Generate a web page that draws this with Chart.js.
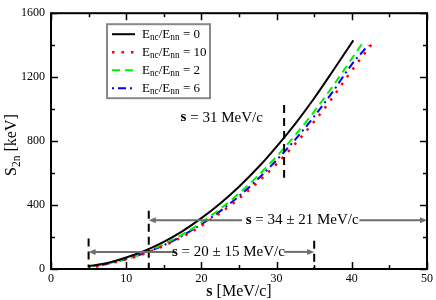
<!DOCTYPE html>
<html>
<head>
<meta charset="utf-8">
<script src="https://cdn.jsdelivr.net/npm/chart.js@4.4.0/dist/chart.umd.min.js"></script>
<style>
  html, body { margin: 0; padding: 0; background: #fff; }
  #wrap { width: 436px; height: 300px; }
</style>
</head>
<body>
<div id="wrap"><canvas id="myChart" width="436" height="300"></canvas></div>
<script>
// S2n vs s
const sBlack = [5, 7.5, 10, 12.5, 15, 17.5, 20, 22.5, 25, 27.5, 30, 32.5, 35, 37.5, 40.2];
const s2nBlack = [18, 38, 72, 115, 170, 237, 318, 410, 515, 633, 766, 910, 1068, 1240, 1430];

const sRed = [6, 7.5, 10, 12.5, 15, 17.5, 20, 22.5, 25, 27.5, 30, 32.5, 35, 37.5, 40, 42.8];
const s2nRed = [14, 32, 60, 97, 145, 202, 270, 350, 441, 543, 657, 784, 923, 1076, 1242, 1416];

const sGreen = [5.6, 7.5, 10, 12.5, 15, 17.5, 20, 22.5, 25, 27.5, 30, 32.5, 35, 37.5, 40, 41.7];
const s2nGreen = [17, 34, 64, 104, 155, 217, 291, 376, 473, 582, 704, 838, 985, 1145, 1316, 1432];

const sBlue = [6, 7.5, 10, 12.5, 15, 17.5, 20, 22.5, 25, 27.5, 30, 32.5, 35, 37.5, 40, 42.2];
const s2nBlue = [16, 33, 62, 101, 149, 209, 280, 362, 456, 562, 681, 811, 954, 1111, 1280, 1400];

const ratios = ["0", "10", "2", "6"];

const xTicks = [0, 10, 20, 30, 40, 50];
const yTicks = [0, 400, 800, 1200, 1600];

// annotations (data coordinates)
const vLines = [
    { s: 5, from: 10, to: 190 },
    { s: 13, from: 0, to: 365 },
    { s: 31, from: 570, to: 1026 },
    { s: 35, from: 0, to: 177 }
];
const ranges = [
    { text: ["20", "15"], y: 107, from: 5, to: 35, gapL: 16.4, gapR: 31.0, center: 23.6 },
    { text: ["34", "21"], y: 305, from: 13, to: 50, gapL: 25.4, gapR: 41.0, center: 33.4 }
];
const note = { text: "31", s: 22.7, y: 947 };

function pts(xs, ys) {
    return xs.map((x, i) => ({ x: x, y: ys[i] }));
}

const serif = "'Liberation Serif', 'DejaVu Serif', serif";

// draw a run of text parts (with optional subscript / bold) starting at x
function partsWidth(ctx, parts, size) {
    let w = 0;
    parts.forEach(p => {
        const fs = p.sub ? size * 0.72 : size;
        ctx.font = (p.bold ? "bold " : "") + fs + "px " + serif;
        w += ctx.measureText(p.t).width;
    });
    return w;
}
function drawParts(ctx, parts, x, y, size) {
    parts.forEach(p => {
        const fs = p.sub ? size * 0.72 : size;
        ctx.font = (p.bold ? "bold " : "") + fs + "px " + serif;
        ctx.fillText(p.t, x, p.sub ? y + size * 0.28 : y);
        x += ctx.measureText(p.t).width;
    });
    return x;
}
function ratioParts(r) {
    return [
        { t: "E" }, { t: "nc", sub: true }, { t: "/E" }, { t: "nn", sub: true }, { t: " = " + r }
    ];
}

const framePlugin = {
    id: "frame",
    afterDatasetsDraw(chart) {
        const ctx = chart.ctx;
        const xs = chart.scales.x, ys = chart.scales.y;
        ctx.save();

        // vertical dashed markers
        ctx.strokeStyle = "#000";
        ctx.lineWidth = 2;
        ctx.setLineDash([8, 5]);
        vLines.forEach(v => {
            const px = xs.getPixelForValue(v.s);
            ctx.beginPath();
            ctx.moveTo(px, ys.getPixelForValue(v.to));
            ctx.lineTo(px, ys.getPixelForValue(v.from));
            ctx.stroke();
        });
        ctx.setLineDash([]);

        // range arrows
        ctx.strokeStyle = "#6e6e6e";
        ctx.fillStyle = "#6e6e6e";
        ctx.lineWidth = 2;
        function arrow(x1, x2, py) {
            const dir = x2 > x1 ? 1 : -1;
            ctx.beginPath();
            ctx.moveTo(x1, py);
            ctx.lineTo(x2 - dir * 5, py);
            ctx.stroke();
            ctx.beginPath();
            ctx.moveTo(x2, py);
            ctx.lineTo(x2 - dir * 7, py - 3);
            ctx.lineTo(x2 - dir * 7, py + 3);
            ctx.closePath();
            ctx.fill();
        }
        ranges.forEach(r => {
            const py = ys.getPixelForValue(r.y);
            arrow(xs.getPixelForValue(r.gapL), xs.getPixelForValue(r.from), py);
            arrow(xs.getPixelForValue(r.gapR), xs.getPixelForValue(r.to), py);
        });

        // labels
        ctx.fillStyle = "#000";
        ctx.textBaseline = "middle";
        ctx.textAlign = "left";
        ranges.forEach(r => {
            const parts = [{ t: "s", bold: true }, { t: " = " + r.text[0] + " \u00b1 " + r.text[1] + " MeV/c" }];
            const w = partsWidth(ctx, parts, 15);
            drawParts(ctx, parts, xs.getPixelForValue(r.center) - w / 2, ys.getPixelForValue(r.y), 15);
        });
        const nParts = [{ t: "s", bold: true }, { t: " = " + note.text + " MeV/c" }];
        const nw = partsWidth(ctx, nParts, 15);
        drawParts(ctx, nParts, xs.getPixelForValue(note.s) - nw / 2, ys.getPixelForValue(note.y), 15);
        ctx.restore();
    },
    afterDraw(chart) {
        const ctx = chart.ctx;
        const a = chart.chartArea;
        const xs = chart.scales.x, ys = chart.scales.y;
        ctx.save();
        ctx.strokeStyle = "#000";

        // ticks, inward on all sides
        ctx.lineWidth = 1.5;
        for (let v = 0; v <= 50; v += 5) {
            const px = Math.round(xs.getPixelForValue(v)) + 0.5;
            const len = v % 10 === 0 ? 7 : 4;
            ctx.beginPath();
            ctx.moveTo(px, a.bottom); ctx.lineTo(px, a.bottom - len);
            ctx.moveTo(px, a.top); ctx.lineTo(px, a.top + len);
            ctx.stroke();
        }
        for (let v = 0; v <= 1600; v += 200) {
            const py = Math.round(ys.getPixelForValue(v)) + 0.5;
            const len = v % 400 === 0 ? 7 : 4;
            ctx.beginPath();
            ctx.moveTo(a.left, py); ctx.lineTo(a.left + len, py);
            ctx.moveTo(a.right, py); ctx.lineTo(a.right - len, py);
            ctx.stroke();
        }

        // frame
        ctx.lineWidth = 2;
        ctx.strokeRect(a.left, a.top, a.right - a.left, a.bottom - a.top);

        // legend
        const lx = a.left + 56, ly = a.top + 11, lw = 103, lh = 74;
        ctx.fillStyle = "#fff";
        ctx.fillRect(lx, ly, lw, lh);
        ctx.strokeStyle = "#888";
        ctx.lineWidth = 2;
        ctx.strokeRect(lx, ly, lw, lh);
        chart.data.datasets.forEach((ds, i) => {
            const ry = ly + 10 + i * 18;
            ctx.strokeStyle = ds.borderColor;
            ctx.lineWidth = ds.borderWidth;
            ctx.setLineDash(ds.borderDash || []);
            ctx.beginPath();
            ctx.moveTo(lx + 5, ry);
            ctx.lineTo(lx + 28, ry);
            ctx.stroke();
            ctx.setLineDash([]);
            ctx.fillStyle = "#000";
            ctx.textBaseline = "middle";
            ctx.textAlign = "left";
            drawParts(ctx, ratioParts(ratios[i]), lx + 35, ry, 13);
        });

        // axis titles
        ctx.fillStyle = "#000";
        ctx.textBaseline = "middle";
        const xt = [{ t: "s", bold: true }, { t: " [MeV/c]" }];
        const xw = partsWidth(ctx, xt, 16);
        drawParts(ctx, xt, (a.left + a.right) / 2 - xw / 2, 292, 16);

        const yt = [{ t: "S" }, { t: "2n", sub: true }, { t: " [keV]" }];
        const yw = partsWidth(ctx, yt, 16);
        ctx.translate(12, (a.top + a.bottom) / 2 + 4);
        ctx.rotate(-Math.PI / 2);
        drawParts(ctx, yt, -yw / 2, 0, 16);
        ctx.restore();
    }
};

new Chart("myChart", {
    type: "line",
    data: {
        datasets: [
            { data: pts(sBlack, s2nBlack), borderColor: "#000000", borderWidth: 2 },
            { data: pts(sRed, s2nRed), borderColor: "#ff0000", borderWidth: 2.5, borderDash: [2.5, 7] },
            { data: pts(sGreen, s2nGreen), borderColor: "#00f000", borderWidth: 2, borderDash: [8, 5] },
            { data: pts(sBlue, s2nBlue), borderColor: "#0000ff", borderWidth: 2, borderDash: [2, 4, 8, 4] }
        ]
    },
    options: {
        responsive: false,
        animation: false,
        devicePixelRatio: 1,
        layout: { padding: { top: 5, right: 8, left: 0, bottom: 0 } },
        elements: {
            point: { radius: 0 },
            line: { tension: 0.4, cubicInterpolationMode: "monotone", fill: false }
        },
        plugins: {
            legend: { display: false },
            tooltip: { enabled: false }
        },
        scales: {
            x: {
                type: "linear",
                min: 0,
                max: 50,
                afterFit(scale) { scale.height = 31; },
                afterBuildTicks(scale) { scale.ticks = xTicks.map(v => ({ value: v })); },
                grid: { display: false, drawTicks: false },
                border: { display: false },
                ticks: {
                    color: "#000", padding: 3, maxRotation: 0,
                    font: { family: serif, size: 12 },
                    callback: v => String(v)
                }
            },
            y: {
                min: 0,
                max: 1600,
                afterFit(scale) { scale.width = 51; },
                afterBuildTicks(scale) { scale.ticks = yTicks.map(v => ({ value: v })); },
                grid: { display: false, drawTicks: false },
                border: { display: false },
                ticks: {
                    color: "#000", padding: 6,
                    font: { family: serif, size: 12 },
                    callback: v => String(v)
                }
            }
        }
    },
    plugins: [framePlugin]
});
</script>
</body>
</html>
